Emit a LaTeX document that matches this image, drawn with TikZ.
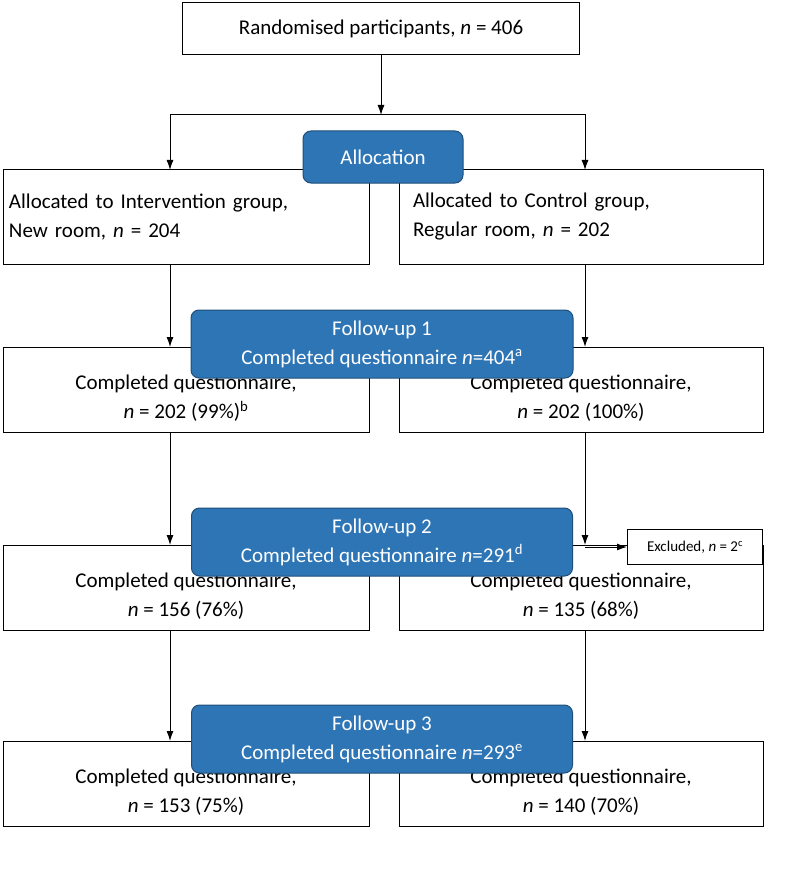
\documentclass[tikz,border=0pt]{standalone}
\usepackage{fontspec}
\setmainfont{Carlito}
\usetikzlibrary{arrows.meta}
\definecolor{fillblue}{HTML}{2E75B6}
\definecolor{edgeblue}{HTML}{1F4E79}
\newcommand{\lowstrut}{\rule{0pt}{31pt}}
\tikzset{
  box/.style={draw, fill=white, line width=1pt, font=\fontsize{21}{29}\selectfont, align=center, inner sep=0pt},
  stage/.style={draw=edgeblue, fill=fillblue, text=white, rounded corners=8pt, line width=1pt, font=\fontsize{21}{29}\selectfont, align=center, inner sep=0pt},
  flow/.style={-{Latex[length=10pt,width=7pt]}, line width=1pt}
}
\begin{document}
\begin{tikzpicture}[x=1pt,y=-1pt]
\useasboundingbox (0,0) rectangle (800,869);
\node[box, minimum width=397pt, minimum height=52pt] (rand) at (381,29) {Randomised participants, \textit{n} = 406};
\node[box, minimum width=366pt, minimum height=94pt, align=left, text width=354pt] (intA) at (186,217) {Allocated to Intervention group,\\New room, \textit{n} = 204};
\node[box, minimum width=364pt, minimum height=94pt, align=left, text width=336pt] (conA) at (581,217) {Allocated to Control group,\\Regular room, \textit{n} = 202};
\node[box, minimum width=366pt, minimum height=85pt] (intB) at (186,390) {\lowstrut Completed questionnaire,\\\textit{n} = 202 (99\%)\textsuperscript{b}};
\node[box, minimum width=364pt, minimum height=85pt] (conB) at (581,390) {\lowstrut Completed questionnaire,\\\textit{n} = 202 (100\%)};
\node[box, minimum width=366pt, minimum height=85pt] (intC) at (186,588) {\lowstrut Completed questionnaire,\\\textit{n} = 156 (76\%)};
\node[box, minimum width=364pt, minimum height=85pt] (conC) at (581,588) {\lowstrut Completed questionnaire,\\\textit{n} = 135 (68\%)};
\node[box, minimum width=366pt, minimum height=85pt] (intD) at (186,784) {\lowstrut Completed questionnaire,\\\textit{n} = 153 (75\%)};
\node[box, minimum width=364pt, minimum height=85pt] (conD) at (581,784) {\lowstrut Completed questionnaire,\\\textit{n} = 140 (70\%)};
\node[box, minimum width=135pt, minimum height=35pt, font=\fontsize{15}{18}\selectfont] (excl) at (695,547) {Excluded, \textit{n} = 2\textsuperscript{c}};
\coordinate (split) at (381,115);

\draw[flow] (rand) -- (split);
\draw[flow] (split) -| (170,170);
\draw[flow] (split) -| (585,170);
\draw[flow] (170,264) -- (170,347);
\draw[flow] (585,264) -- (585,347);
\draw[flow] (170,432) -- (170,545);
\draw[flow] (585,432) -- (585,545);
\draw[flow] (585,547) -- (excl);
\draw[flow] (170,630) -- (170,741);
\draw[flow] (585,630) -- (585,741);

\node[stage, minimum width=160pt, minimum height=52pt] (alloc) at (383,157) {Allocation};
\node[stage, minimum width=382pt, minimum height=68pt] (fu1) at (382,344) {Follow-up 1\\Completed questionnaire \textit{n}=404\textsuperscript{a}};
\node[stage, minimum width=381pt, minimum height=68pt] (fu2) at (382,542) {Follow-up 2\\Completed questionnaire \textit{n}=291\textsuperscript{d}};
\node[stage, minimum width=381pt, minimum height=68pt] (fu3) at (382,739) {Follow-up 3\\Completed questionnaire \textit{n}=293\textsuperscript{e}};
\end{tikzpicture}
\end{document}
